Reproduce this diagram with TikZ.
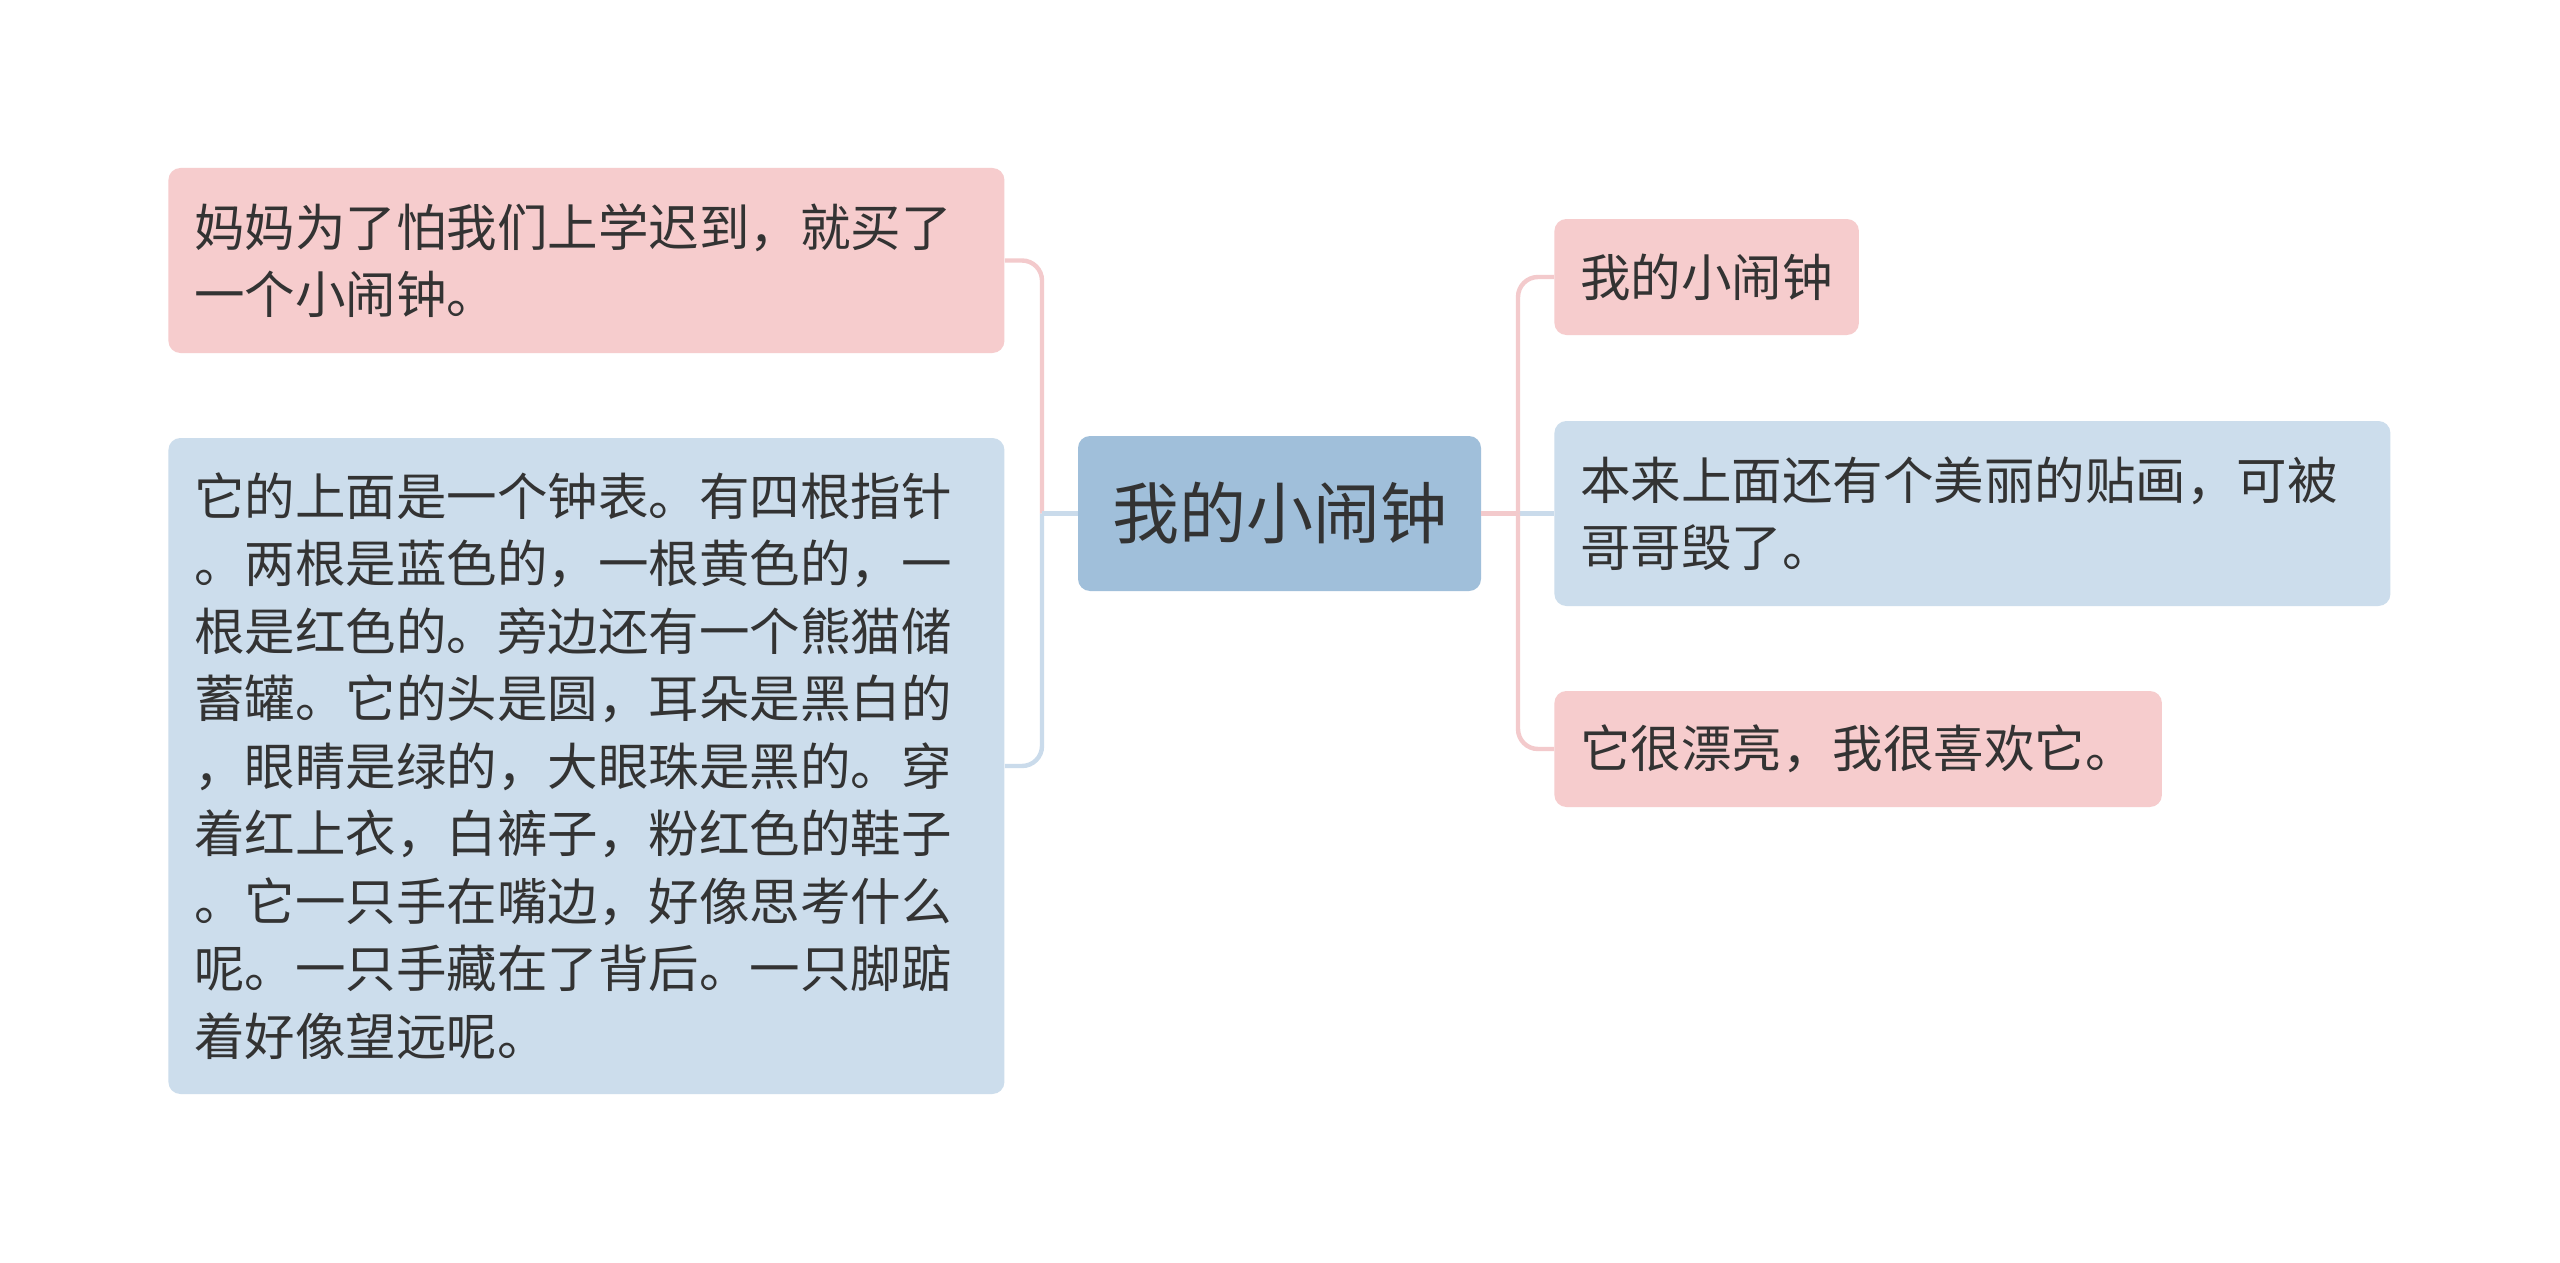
\documentclass[tikz,border=0pt]{standalone}
\usepackage{fontspec}
\setmainfont{Noto Sans CJK SC}
\definecolor{pinkfill}{HTML}{F6CCCD}
\definecolor{bluefill}{HTML}{CCDDEC}
\definecolor{hubfill}{HTML}{A0BFDA}
\definecolor{pinkline}{HTML}{F3CACC}
\definecolor{blueline}{HTML}{CADBEB}
\definecolor{inkgray}{HTML}{333333}

\begin{document}
\begin{tikzpicture}[
  x=0.5pt, y=-0.5pt,
  font=\fontsize{25.25pt}{33.75pt}\selectfont,
  txt/.style={text=inkgray, rounded corners=6pt, inner xsep=13pt, inner ysep=0pt, align=left, anchor=west},
  pinkbox/.style={txt, fill=pinkfill},
  bluebox/.style={txt, fill=bluefill},
  hub/.style={text=inkgray, fill=hubfill, rounded corners=6pt, minimum width=201.5pt, minimum height=77.5pt, font=\fontsize{33.5pt}{40pt}\selectfont},
  pinklink/.style={draw=pinkline, line width=2.2pt, rounded corners=10pt},
  bluelink/.style={draw=blueline, line width=2.2pt, rounded corners=10pt},
]
\fill[white] (0,0) rectangle (2560,1263);
\useasboundingbox (0,0) rectangle (2560,1263);

\node[hub] (ctr) at (1279.5,513.5) {我的小闹钟};

\node[pinkbox, text width=392pt, minimum height=92.5pt] (lt) at (168,260.5) {妈妈为了怕我们上学迟到，就买了\\一个小闹钟。};
\node[bluebox, text width=392pt, minimum height=328pt] (lb) at (168,766) {它的上面是一个钟表。有四根指针\\。两根是蓝色的，一根黄色的，一\\根是红色的。旁边还有一个熊猫储\\蓄罐。它的头是圆，耳朵是黑白的\\，眼睛是绿的，大眼珠是黑的。穿\\着红上衣，白裤子，粉红色的鞋子\\。它一只手在嘴边，好像思考什么\\呢。一只手藏在了背后。一只脚踮\\着好像望远呢。};

\node[pinkbox, minimum height=58pt] (r1) at (1554,277) {我的小闹钟};
\node[bluebox, text width=392pt, minimum height=92.5pt] (r2) at (1554,513.5) {本来上面还有个美丽的贴画，可被\\哥哥毁了。};
\node[pinkbox, minimum height=58pt] (r3) at (1554,749) {它很漂亮，我很喜欢它。};

\coordinate (jl) at (1042,513.5);
\coordinate (jr) at (1518,513.5);

\draw[pinklink] (jl) |- (lt.east);
\draw[bluelink] (jl) |- (lb.east);
\draw[bluelink] (ctr.west) -- (jl);

\draw[bluelink] (jr) -- (r2.west);
\draw[pinklink] (jr) |- (r1.west);
\draw[pinklink] (jr) |- (r3.west);
\draw[pinklink] (ctr.east) -- (jr);
\end{tikzpicture}
\end{document}
